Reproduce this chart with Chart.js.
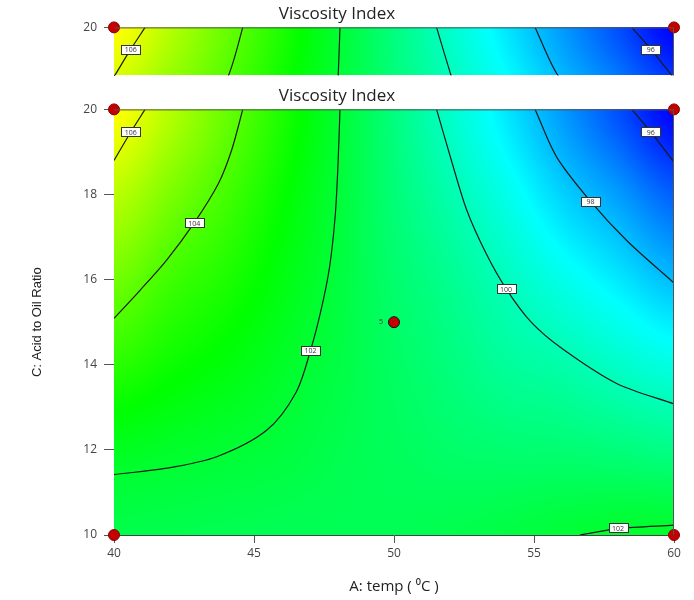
<!DOCTYPE html>
<html>
<head>
<meta charset="utf-8">
<script src="https://cdn.jsdelivr.net/npm/chart.js@4.4.1/dist/chart.umd.min.js"></script>
<style>
  body { margin: 0; background: #fff; }
  #wrap { position: relative; width: 694px; height: 600px; }
  #strip { position: absolute; left: 0; top: 0; }
  #main { position: absolute; left: 0; top: 82px; }
</style>
</head>
<body>
<div id="wrap">
  <canvas id="strip" width="694" height="82"></canvas>
  <canvas id="main" width="694" height="518"></canvas>
</div>
<script>
// grid: A (temp) across, C (acid/oil) rows
const tempValues = [40, 42, 44, 46, 48, 50, 52, 54, 56, 58, 60];
const ratioValues = [10, 12, 14, 16, 18, 20];
const vi_c10 = [101.65, 101.6, 101.55, 101.5, 101.5, 101.5, 101.6, 101.75, 101.95, 102.1, 102.15];
const vi_c12 = [102.3, 102.15, 102.0, 101.85, 101.6, 101.4, 101.2, 101.1, 101.05, 100.93, 100.75];
const vi_c14 = [103.41, 102.95, 102.6, 102.18, 101.75, 101.3, 100.9, 100.45, 100.2, 99.75, 99.35];
const vi_c16 = [104.49, 103.72, 103.2, 102.52, 101.85, 101.15, 100.6, 99.93, 99.25, 98.62, 97.94];
const vi_c18 = [105.57, 104.63, 103.79, 102.85, 101.95, 101.0, 100.15, 99.26, 98.27, 97.47, 96.54];
const vi_c20 = [106.63, 105.49, 104.34, 103.19, 102.04, 100.88, 99.73, 98.59, 97.44, 96.28, 95.12];
const viGrid = [vi_c10, vi_c12, vi_c14, vi_c16, vi_c18, vi_c20];

// contour lines [temp, ratio]
const contour106 = [[40, 18.8], [40.6, 19.47], [41.11, 20]];
const contour104 = [[40, 15.09], [40.93, 15.75], [41.88, 16.46], [42.87, 17.34], [43.73, 18.26], [44.2, 19.04], [44.6, 20]];
const contour102a = [[40, 11.42], [41.88, 11.57], [43.67, 11.84], [45.45, 12.46], [46.5, 13.35], [47.02, 14.34], [47.4, 15.3], [47.7, 16.3], [47.9, 17.5], [48.0, 18.7], [48.07, 20]];
const contour102b = [[56.64, 10], [58.0, 10.15], [60, 10.23]];
const contour100 = [[51.52, 20], [52.05, 18.8], [52.6, 17.63], [53.3, 16.6], [54.0, 15.79], [54.9, 15.0], [56.0, 14.38], [57.95, 13.56], [60, 13.08]];
const contour98 = [[55.04, 20], [55.81, 18.88], [57.02, 17.84], [58.31, 16.92], [60, 15.92]];
const contour96 = [[58.49, 20], [59.17, 19.47], [60, 18.76]];

const labelValues = ['106', '104', '102', '100', '98', '96', '102'];
const labelTemp = [40.6, 42.87, 47.02, 54.0, 57.02, 59.17, 58.0];
const labelRatio = [19.47, 17.34, 14.34, 15.79, 17.84, 19.47, 10.17];

const designTemp = [40, 40, 60, 60, 50];
const designRatio = [10, 20, 10, 20, 15];
const centerRuns = '5';

const xTicks = [40, 45, 50, 55, 60];
const yTicks = [10, 12, 14, 16, 18, 20];

const FONT = '"Open Sans", "Noto Sans", sans-serif';

// smooth lookup in the grid (catmull-rom)
function cr(p0, p1, p2, p3, t) {
  return p1 + 0.5 * t * (p2 - p0 + t * (2 * p0 - 5 * p1 + 4 * p2 - p3 + t * (3 * (p1 - p2) + p3 - p0)));
}
function lookup(xv, yv) {
  const nx = tempValues.length, ny = ratioValues.length;
  let fx = (xv - tempValues[0]) / (tempValues[1] - tempValues[0]);
  let fy = (yv - ratioValues[0]) / (ratioValues[1] - ratioValues[0]);
  fx = Math.max(0, Math.min(nx - 1.0001, fx));
  fy = Math.max(0, Math.min(ny - 1.0001, fy));
  const i = Math.floor(fx), j = Math.floor(fy), tx = fx - i, ty = fy - j;
  const cl = (v, n) => Math.max(0, Math.min(n - 1, v));
  const rows = [];
  for (let k = -1; k <= 2; k++) {
    const row = viGrid[cl(j + k, ny)];
    rows.push(cr(row[cl(i - 1, nx)], row[i], row[cl(i + 1, nx)], row[cl(i + 2, nx)], tx));
  }
  return cr(rows[0], rows[1], rows[2], rows[3], ty);
}
function colorFor(v) {
  let t = (v - 95.1) / (106.6 - 95.1);
  t = Math.max(0, Math.min(1, t));
  const h = (240 - t * 180) / 60; // blue -> cyan -> green -> yellow
  const f = h - Math.floor(h);
  const k = Math.floor(h);
  if (k >= 3) return [0, Math.round(255 * (1 - f)), 255];
  if (k === 2) return [0, 255, Math.round(255 * f)];
  return [Math.round(255 * (1 - f)), 255, 0];
}

const heatPlugin = {
  id: 'heat',
  beforeDatasetsDraw(chart) {
    const { ctx, chartArea: a, scales: { x, y } } = chart;
    const w = Math.round(a.right - a.left), h = Math.round(a.bottom - a.top);
    const off = document.createElement('canvas');
    off.width = w; off.height = h;
    const octx = off.getContext('2d');
    const img = octx.createImageData(w, h);
    for (let j = 0; j < h; j++) {
      const yv = y.getValueForPixel(a.top + j + 0.5);
      for (let i = 0; i < w; i++) {
        const xv = x.getValueForPixel(a.left + i + 0.5);
        const c = colorFor(lookup(xv, yv));
        const p = (j * w + i) * 4;
        img.data[p] = c[0]; img.data[p + 1] = c[1]; img.data[p + 2] = c[2]; img.data[p + 3] = 255;
      }
    }
    octx.putImageData(img, 0, 0);
    ctx.drawImage(off, a.left, a.top);
  }
};

const boxPlugin = {
  id: 'box',
  afterDatasetsDraw(chart) {
    const { ctx, chartArea: a, scales: { x, y } } = chart;
    const strip = chart.canvas.id === 'strip';
    ctx.save();
    ctx.strokeStyle = '#555';
    ctx.lineWidth = 1;
    ctx.beginPath();
    ctx.moveTo(a.left, a.top + 0.5); ctx.lineTo(a.right, a.top + 0.5);
    ctx.moveTo(a.right - 0.5, a.top); ctx.lineTo(a.right - 0.5, a.bottom);
    ctx.stroke();
    // contour labels
    ctx.beginPath();
    ctx.rect(a.left, a.top, a.right - a.left, a.bottom - a.top);
    ctx.clip();
    ctx.font = '7px ' + FONT;
    ctx.textAlign = 'center';
    ctx.textBaseline = 'middle';
    labelValues.forEach((t, k) => {
      const px = x.getPixelForValue(labelTemp[k]);
      const py = y.getPixelForValue(labelRatio[k]);
      const bw = 19, bh = 9;
      ctx.fillStyle = '#fff';
      ctx.fillRect(Math.round(px - bw / 2) + 0.5, Math.round(py - bh / 2) + 0.5, bw, bh);
      ctx.strokeStyle = '#333';
      ctx.strokeRect(Math.round(px - bw / 2) + 0.5, Math.round(py - bh / 2) + 0.5, bw, bh);
      ctx.fillStyle = '#333';
      ctx.fillText(t, px, py + 1);
    });
    if (!strip) {
      ctx.fillStyle = '#333';
      ctx.fillText(centerRuns, x.getPixelForValue(designTemp[4]) - 13, y.getPixelForValue(designRatio[4]));
    }
    ctx.restore();
  }
};

function contourSet(pts) {
  return {
    type: 'scatter',
    data: pts.map(p => ({ x: p[0], y: p[1] })),
    showLine: true,
    borderColor: '#1a1a1a',
    borderWidth: 1.2,
    pointRadius: 0,
    tension: 0.3,
    fill: false
  };
}

function buildDatasets(strip) {
  const lines = [contour106, contour104, contour102a, contour102b, contour100, contour98, contour96].map(contourSet);
  const pts = designTemp.map((t, k) => ({ x: t, y: designRatio[k] }))
    .filter(p => !strip || p.y === 20);
  lines.push({
    type: 'scatter',
    data: pts,
    pointRadius: 5.5,
    pointBackgroundColor: '#c40000',
    pointBorderColor: pts.map(p => (p.x === 50 ? '#111' : '#8a0000')),
    pointBorderWidth: 1,
    clip: false
  });
  return lines;
}

const titleOpts = {
  display: true,
  text: 'Viscosity Index',
  color: '#222',
  font: { family: FONT, size: 17, weight: 'normal' },
  padding: { top: 4, bottom: 3 }
};

new Chart(document.getElementById('main'), {
  type: 'scatter',
  data: { datasets: buildDatasets(false) },
  plugins: [heatPlugin, boxPlugin],
  options: {
    responsive: false,
    animation: false,
    layout: { padding: { right: 20 } },
    plugins: { legend: { display: false }, tooltip: { enabled: false }, title: titleOpts },
    scales: {
      x: {
        type: 'linear', min: 40, max: 60,
        afterBuildTicks: s => { s.ticks = xTicks.map(v => ({ value: v })); },
        afterFit: s => { s.height = 65; },
        ticks: { color: '#444', font: { family: FONT, size: 12 }, padding: 3 },
        grid: { drawOnChartArea: false, tickLength: 8, color: '#555' },
        border: { color: '#444' },
        title: { display: true, text: 'A: temp ( \u2070C )', color: '#222', font: { family: FONT, size: 15 }, padding: { top: 4, bottom: 4 } }
      },
      y: {
        type: 'linear', min: 10, max: 20,
        afterBuildTicks: s => { s.ticks = yTicks.map(v => ({ value: v })); },
        afterFit: s => { s.width = 114; },
        ticks: { color: '#444', font: { family: FONT, size: 12 }, padding: 7 },
        grid: { drawOnChartArea: false, tickLength: 10, color: '#555' },
        border: { color: '#444' },
        title: { display: true, text: 'C: Acid to Oil Ratio', color: '#222', font: { family: '"Liberation Sans Narrow", "Liberation Sans", sans-serif', size: 13 }, padding: { top: 30, bottom: 0 } }
      }
    }
  }
});

new Chart(document.getElementById('strip'), {
  type: 'scatter',
  data: { datasets: buildDatasets(true) },
  plugins: [heatPlugin, boxPlugin],
  options: {
    responsive: false,
    animation: false,
    layout: { padding: { right: 20, bottom: 1 } },
    plugins: { legend: { display: false }, tooltip: { enabled: false }, title: titleOpts },
    scales: {
      x: { type: 'linear', min: 40, max: 60, display: false },
      y: {
        type: 'linear', min: 18.83, max: 20,
        afterBuildTicks: s => { s.ticks = [{ value: yTicks[yTicks.length - 1] }]; },
        afterFit: s => { s.width = 114; s.paddingBottom = 0; },
        ticks: { color: '#444', font: { family: FONT, size: 12 }, padding: 7 },
        grid: { drawOnChartArea: false, tickLength: 10, color: '#555' },
        border: { color: '#444' }
      }
    }
  }
});
</script>
</body>
</html>
